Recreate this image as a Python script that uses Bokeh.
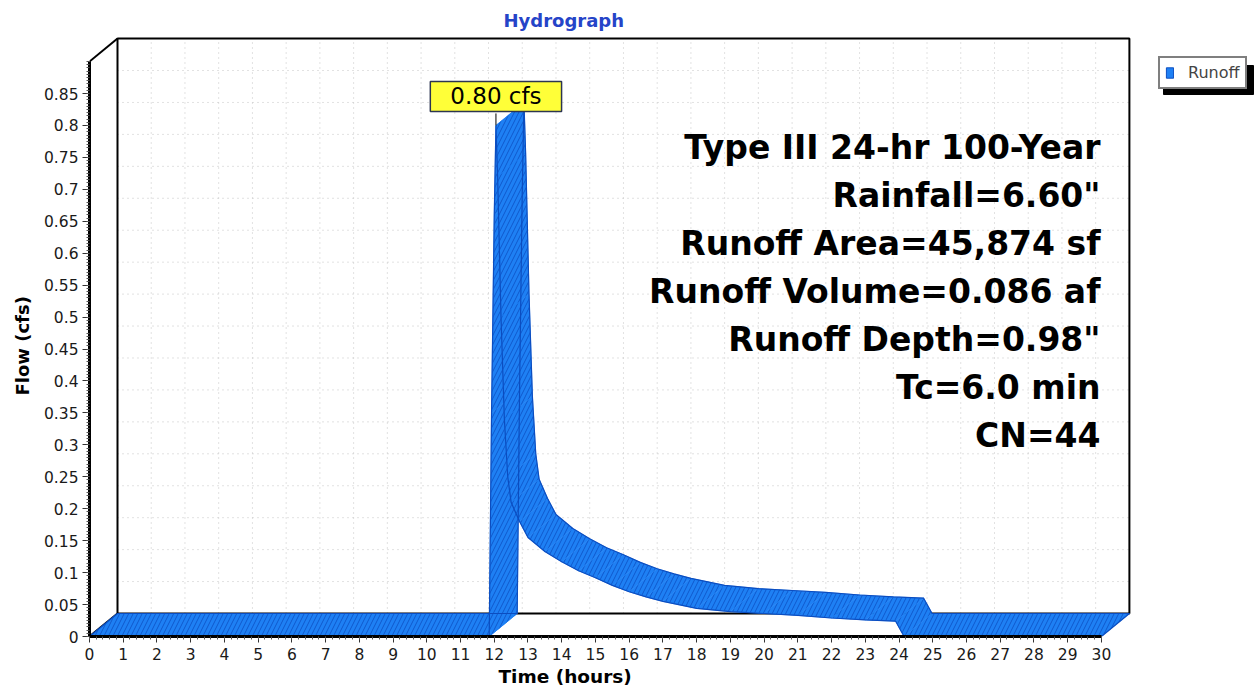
import numpy as np
from bokeh.plotting import figure
from bokeh.models import Range1d, FixedTicker, Label, Legend, LegendItem, Title
from bokeh.embed import file_html
from bokeh.resources import INLINE

# ---------------- data ----------------
time_h = [0.0, 11.85, 11.92, 12.0, 12.05, 12.1, 12.2, 12.3, 12.4, 12.5,
          12.75, 13.0, 13.5, 14.0, 14.5, 15.0, 15.5, 16.0, 16.5, 17.0,
          18.0, 19.0, 20.0, 21.0, 22.0, 23.0, 23.9, 24.15, 30.0]
flow_cfs = [0.0, 0.0, 0.35, 0.66, 0.80, 0.72, 0.50, 0.34, 0.25, 0.21,
            0.18, 0.155, 0.133, 0.117, 0.103, 0.092, 0.080, 0.070, 0.062, 0.055,
            0.044, 0.039, 0.036, 0.033, 0.029, 0.026, 0.024, 0.0, 0.0]

x_ticks = [0, 1, 2, 3, 4, 5, 6, 7, 8, 9, 10, 11, 12, 13, 14, 15, 16, 17, 18, 19,
           20, 21, 22, 23, 24, 25, 26, 27, 28, 29, 30]
x_tick_labels = [str(v) for v in x_ticks]
y_ticks = [0, 0.05, 0.1, 0.15, 0.2, 0.25, 0.3, 0.35, 0.4, 0.45, 0.5, 0.55,
           0.6, 0.65, 0.7, 0.75, 0.8, 0.85]
y_tick_labels = ["0", "0.05", "0.1", "0.15", "0.2", "0.25", "0.3", "0.35", "0.4",
                 "0.45", "0.5", "0.55", "0.6", "0.65", "0.7", "0.75", "0.8", "0.85"]

series_name = "Runoff"
chart_title = "Hydrograph"
x_label = "Time  (hours)"
y_label = "Flow  (cfs)"
info_lines = ["Type III 24-hr 100-Year", "Rainfall=6.60\"", "Runoff Area=45,874 sf",
              "Runoff Volume=0.086 af", "Runoff Depth=0.98\"", "Tc=6.0 min", "CN=44"]

# ---------------- layout ----------------
W, H = 1257, 690
BL, BB, BT = 89, 54, 34
FW, FH = W - BL, H - BB - BT
SX, SY = 33.73, 638.8          # px per hour, px per cfs
DX, DY = 28 / SX, 23 / SY      # 3-D depth offset
XMAX, YMAX = 30, 0.90

BLUE = "#1e80f4"
HATCH = "#0b4fc2"
EDGE = "#0b4dc0"
FONT = "DejaVu Sans"

p = figure(width=W, height=H, output_backend="svg", toolbar_location=None,
           x_range=Range1d(0, FW / SX), y_range=Range1d(0, FH / SY),
           min_border_left=BL, min_border_right=0, min_border_top=BT,
           min_border_bottom=BB, background_fill_color="white",
           border_fill_color="white")
p.outline_line_color = None
p.xgrid.visible = False
p.ygrid.visible = False

# title
p.title.text = chart_title
p.title.align = "left"
p.title.offset = 414
p.title.standoff = 8
p.title.text_font = FONT
p.title.text_font_style = "bold"
p.title.text_font_size = "18px"
p.title.text_color = "#2544c8"

# ---------------- axes ----------------
xa = p.xaxis[0]
xa.ticker = FixedTicker(ticks=x_ticks, minor_ticks=[i * 0.2 for i in range(151)])
xa.major_label_overrides = dict(zip(x_ticks, x_tick_labels))
xa.bounds = (0, XMAX)
ya = p.yaxis[0]
ya.ticker = FixedTicker(ticks=y_ticks, minor_ticks=[i * 0.005 for i in range(181)])
ya.major_label_overrides = dict(zip(y_ticks, y_tick_labels))
ya.bounds = (0, YMAX)
for ax in (xa, ya):
    ax.axis_line_width = 3
    ax.axis_line_color = "black"
    ax.major_tick_in = 0
    ax.minor_tick_in = 0
    ax.major_tick_line_color = "#333333"
    ax.minor_tick_line_color = "#555555"
    ax.major_label_text_font = FONT
    ax.major_label_text_font_size = "15.5px"
    ax.major_label_text_color = "#1a1a1a"
xa.major_tick_out = 6
xa.minor_tick_out = 3
xa.major_label_standoff = 5
ya.major_tick_out = 7
ya.minor_tick_out = 3
ya.major_label_standoff = 4

# axis titles placed in the side panels
p.add_layout(Title(text=x_label, align="left", offset=409, standoff=2,
                   text_font=FONT, text_font_style="bold", text_font_size="18.5px",
                   text_color="black"), "below")
p.add_layout(Title(text=y_label, align="left", offset=241, standoff=16,
                   text_font=FONT, text_font_style="bold", text_font_size="18px",
                   text_color="black"), "left")

# ---------------- back wall + grid ----------------
gx = [k + DX for k in x_ticks[1:-1]]
p.segment(x0=gx, y0=[DY] * len(gx), x1=gx, y1=[YMAX + DY] * len(gx),
          line_color="#c4c4c4", line_dash="1 4", line_width=1)
gy = [v + DY for v in y_ticks[1:]]
p.segment(x0=[DX] * len(gy), y0=gy, x1=[XMAX + DX] * len(gy), y1=gy,
          line_color="#c4c4c4", line_dash="1 4", line_width=1)
p.line(x=[DX, DX, XMAX + DX, XMAX + DX, DX], y=[DY, YMAX + DY, YMAX + DY, DY, DY],
       line_color="black", line_width=2)
p.line(x=[0, DX], y=[YMAX, YMAX + DY], line_color="black", line_width=2)
p.line(x=[0, DX], y=[0, DY], line_color="black", line_width=2)

# ---------------- 3-D ribbon ----------------
t = np.array(time_h)
f = np.array(flow_cfs)
xs, ys = [], []
for i in range(len(t) - 1):
    xs.append([t[i], t[i + 1], t[i + 1] + DX, t[i] + DX])
    ys.append([f[i], f[i + 1], f[i + 1] + DY, f[i] + DY])
p.patches(xs=xs, ys=ys, fill_color=BLUE, line_color=BLUE, line_width=0.6,
          hatch_pattern="/", hatch_color=HATCH, hatch_scale=9, hatch_weight=1.0,
          hatch_alpha=0.8)
p.line(x=list(t), y=list(f), line_color=EDGE, line_width=1.2)
p.line(x=list(t + DX), y=list(f + DY), line_color=EDGE, line_width=1.2)
p.line(x=[t[-1], t[-1] + DX], y=[f[-1], f[-1] + DY], line_color=EDGE, line_width=1.2)
p.line(x=[t[0], t[0] + DX], y=[f[0], f[0] + DY], line_color=EDGE, line_width=1.2)

# ---------------- peak label ----------------
ipk = int(np.argmax(f))
tp, fp = float(t[ipk]), float(f[ipk])
p.segment(x0=[tp], y0=[fp], x1=[tp], y1=[fp + 12 / SY], line_color="black", line_width=1)
p.add_layout(Label(x=tp, y=fp, y_offset=14, text=f"{fp:.2f} cfs",
                   text_align="center", text_baseline="bottom",
                   text_font=FONT, text_font_size="23px", text_color="black",
                   background_fill_color="#ffff38", border_line_color="#2c3550",
                   border_line_width=1.5,
                   padding=dict(left=20, right=20, top=2, bottom=2)))

# ---------------- info text block ----------------
for k, line in enumerate(info_lines):
    p.add_layout(Label(x=1011, y=489 - 48 * k, x_units="screen", y_units="screen",
                       text=line, text_align="right", text_baseline="alphabetic",
                       text_font=FONT, text_font_style="bold", text_font_size="33px",
                       text_color="black"))

# ---------------- legend with shadow ----------------
p.quad(left=[(1163 - BL) / SX], right=[(1253 - BL) / SX],
       top=[(636 - 65) / SY], bottom=[(636 - 94) / SY],
       fill_color="black", line_color="black")
proxy = p.quad(left=[-1.0], right=[-1.0], top=[-1.0], bottom=[-1.0],
               fill_color=BLUE, line_color=EDGE)
leg = Legend(items=[LegendItem(label=series_name, renderers=[proxy])],
             location=(1158 - BL, 636 - 89), margin=0, padding=5, spacing=0,
             glyph_width=9, glyph_height=13, label_height=16, label_standoff=14,
             label_text_font=FONT, label_text_font_size="16px",
             border_line_color="black", border_line_width=2,
             background_fill_color="white", background_fill_alpha=1)
p.add_layout(leg)

open("out.html", "w").write(file_html(p, INLINE))
